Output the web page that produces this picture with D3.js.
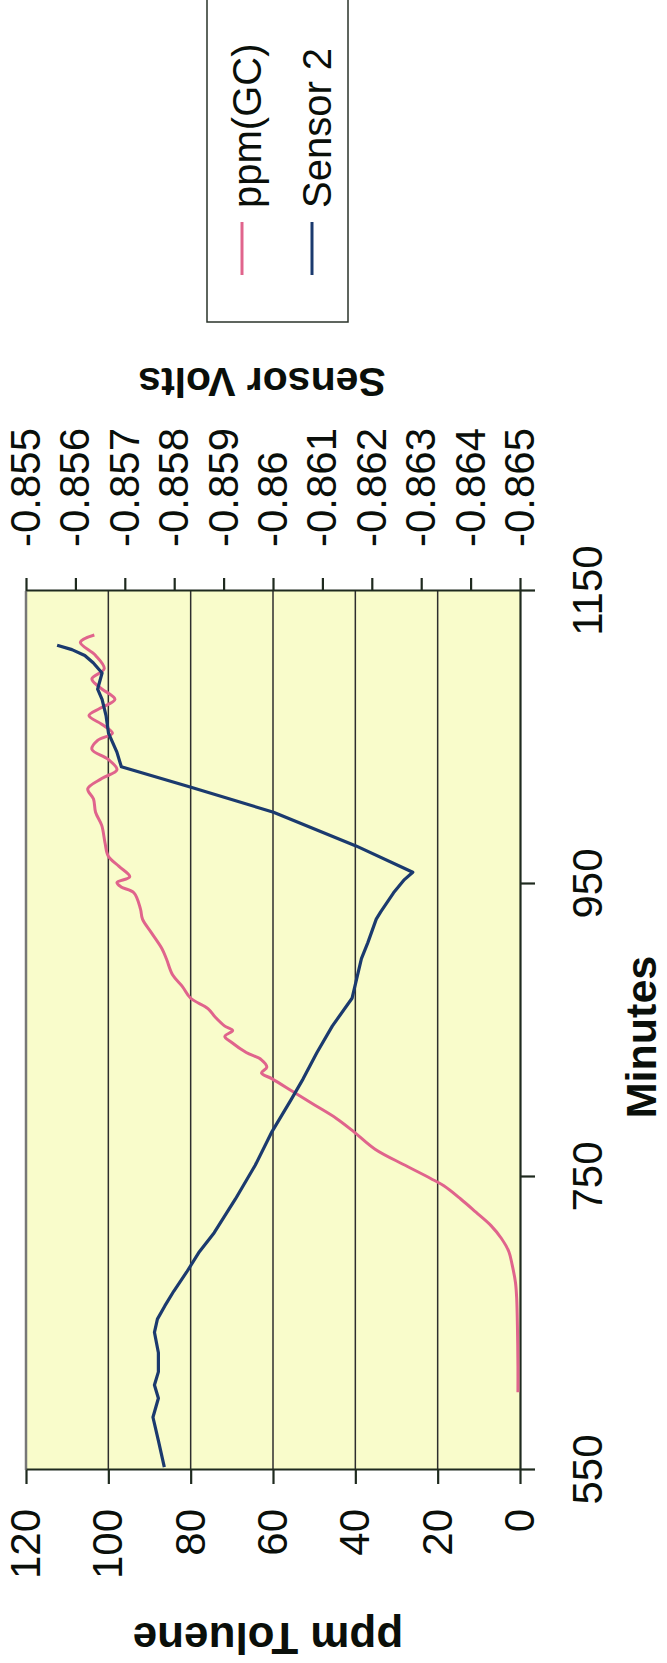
<!DOCTYPE html>
<html><head><meta charset="utf-8">
<script src="https://cdn.jsdelivr.net/npm/d3@7"></script>
<style>html,body{margin:0;padding:0;background:#fff;} svg{display:block;}</style>
</head><body><svg id="c" width="667" height="1663"></svg>
<script>
const minuteTicks=[550,750,950,1150];
const ppmTicks=[0,20,40,60,80,100,120];
const voltTicks=[-0.865,-0.864,-0.863,-0.862,-0.861,-0.86,-0.859,-0.858,-0.857,-0.856,-0.855];
const voltTickLabels=["-0.865","-0.864","-0.863","-0.862","-0.861","-0.86","-0.859","-0.858","-0.857","-0.856","-0.855"];
const seriesNames=["ppm(GC)","Sensor 2"];
const gcMinutes=[603,621,644,667,678,690,699,708,717,726,735,744,749,758,769,781,790,799,808,817,821,825,830,835,842,846,850,853,859,865,872,880,888,899,906,917,926,933,944,948,951,955,962,969,978,990,999,1008,1015,1022,1028,1035,1042,1048,1053,1059,1065,1070,1076,1084,1090,1097,1106,1115,1120];
const gcPpm=[0.5,0.5,0.6,0.8,1.1,1.9,2.7,4.5,7.1,10.7,14.4,18.5,21.7,27.9,35.2,40.4,44.6,49.8,55.0,60.2,62.8,61.5,62.8,66.5,70.1,71.7,69.8,71.7,74.0,75.8,80.0,82.0,84.4,85.9,87.0,89.6,91.7,92.2,93.8,96.9,97.9,94.8,97.4,100.0,100.8,101.6,103.1,103.6,105.0,101.6,97.9,100.0,104.0,102.6,99.0,101.6,104.7,102.0,98.4,102.0,104.0,101.0,103.1,106.8,103.4];
const sensorMinutes=[552,570,586,599,608,617,630,644,653,662,672,685,699,712,735,758,781,803,817,835,853,872,899,910,926,931,944,953,958,976,999,1016,1030,1040,1053,1065,1076,1083,1094,1101,1106,1110,1113];
const sensorVolts=[-0.85780,-0.85768,-0.85757,-0.85768,-0.85760,-0.85768,-0.85768,-0.85760,-0.85766,-0.85781,-0.85799,-0.85825,-0.85851,-0.85881,-0.85924,-0.85964,-0.85998,-0.86037,-0.86061,-0.86089,-0.86120,-0.86160,-0.86179,-0.86192,-0.86209,-0.86218,-0.86244,-0.86266,-0.86283,-0.86168,-0.86001,-0.85834,-0.85693,-0.85684,-0.85667,-0.85662,-0.85654,-0.85645,-0.85654,-0.85636,-0.85619,-0.85593,-0.85563];

const FONT='"Liberation Sans", Arial, sans-serif';
const W=1663;
const svg=d3.select('#c');
const g=svg.append('g').attr('transform',`translate(0,${W}) rotate(-90)`).attr('font-family',FONT);
const m={l:193,r:1072,t:26,b:520};
const x=d3.scaleLinear().domain([550,1150]).range([m.l,m.r]);
const y=d3.scaleLinear().domain([0,120]).range([m.b,m.t]);
const y2=d3.scaleLinear().domain([-0.865,-0.855]).range([m.b,m.t]);

g.append('rect').attr('x',m.l).attr('y',m.t).attr('width',m.r-m.l).attr('height',m.b-m.t).attr('fill','#f9fccb');
g.selectAll('line.grid').data(ppmTicks.filter(v=>v>0&&v<120)).join('line').attr('class','grid')
 .attr('x1',m.l).attr('x2',m.r).attr('y1',d=>y(d)).attr('y2',d=>y(d)).attr('stroke','#2e2e2e').attr('stroke-width',1.5);
g.append('line').attr('x1',m.l).attr('x2',m.r).attr('y1',m.t).attr('y2',m.t).attr('stroke','#777').attr('stroke-width',2.5);

const axL=g.append('g').attr('transform',`translate(${m.l},0)`)
 .call(d3.axisLeft(y).tickValues(ppmTicks).tickSize(14).tickSizeOuter(0).tickPadding(25));
const axB=g.append('g').attr('transform',`translate(0,${m.b})`)
 .call(d3.axisBottom(x).tickValues(minuteTicks).tickFormat(d3.format('d')).tickSize(15).tickSizeOuter(0).tickPadding(37));
const axR=g.append('g').attr('transform',`translate(${m.r},0)`)
 .call(d3.axisRight(y2).tickValues(voltTicks).tickFormat((d,i)=>voltTickLabels[i]).tickSize(13).tickSizeOuter(0).tickPadding(31));
[axL,axB,axR].forEach(a=>{
  a.attr('font-size',42).attr('font-family',FONT);
  a.selectAll('text').attr('fill','#0a0f0a');
  a.selectAll('line,path').attr('stroke','#1f2a1f').attr('stroke-width',2.2);
});

const lineGC=d3.line().x((d,i)=>x(gcMinutes[i])).y((d,i)=>y(gcPpm[i])).curve(d3.curveCatmullRom);
g.append('path').attr('d',lineGC(gcPpm)).attr('fill','none').attr('stroke','#e0648c').attr('stroke-width',3).attr('stroke-linejoin','round');
const lineS=d3.line().x((d,i)=>x(sensorMinutes[i])).y((d,i)=>y2(sensorVolts[i])).curve(d3.curveLinear);
g.append('path').attr('d',lineS(sensorVolts)).attr('fill','none').attr('stroke','#1b3a6e').attr('stroke-width',3.2).attr('stroke-linejoin','round');

// titles
g.append('text').attr('x',626).attr('y',656).attr('text-anchor','middle').attr('font-weight','bold').attr('font-size',43).attr('fill','#0a0f0a').text('Minutes');
g.append('text').attr('transform','translate(40,268) rotate(-90)').attr('text-anchor','middle').attr('font-weight','bold').attr('font-size',44).attr('fill','#0a0f0a').text('ppm Toluene');
g.append('text').attr('transform','translate(1295,262) rotate(-90)').attr('text-anchor','middle').attr('font-weight','bold').attr('font-size',41).attr('fill','#0a0f0a').text('Sensor Volts');

// legend
const lg=g.append('g');
lg.append('rect').attr('x',1341).attr('y',207).attr('width',400).attr('height',141).attr('fill','#fff').attr('stroke','#2a332a').attr('stroke-width',1.5);
const colors=['#e0648c','#1b3a6e'];
const ly=[242,312];
seriesNames.forEach((n,i)=>{
  lg.append('line').attr('x1',1388).attr('x2',1441).attr('y1',ly[i]).attr('y2',ly[i]).attr('stroke',colors[i]).attr('stroke-width',3);
  lg.append('text').attr('x',1455).attr('y',ly[i]+5).attr('dy','0.35em').attr('font-size',40).attr('fill','#0a0f0a').text(n);
});
</script></body></html>
